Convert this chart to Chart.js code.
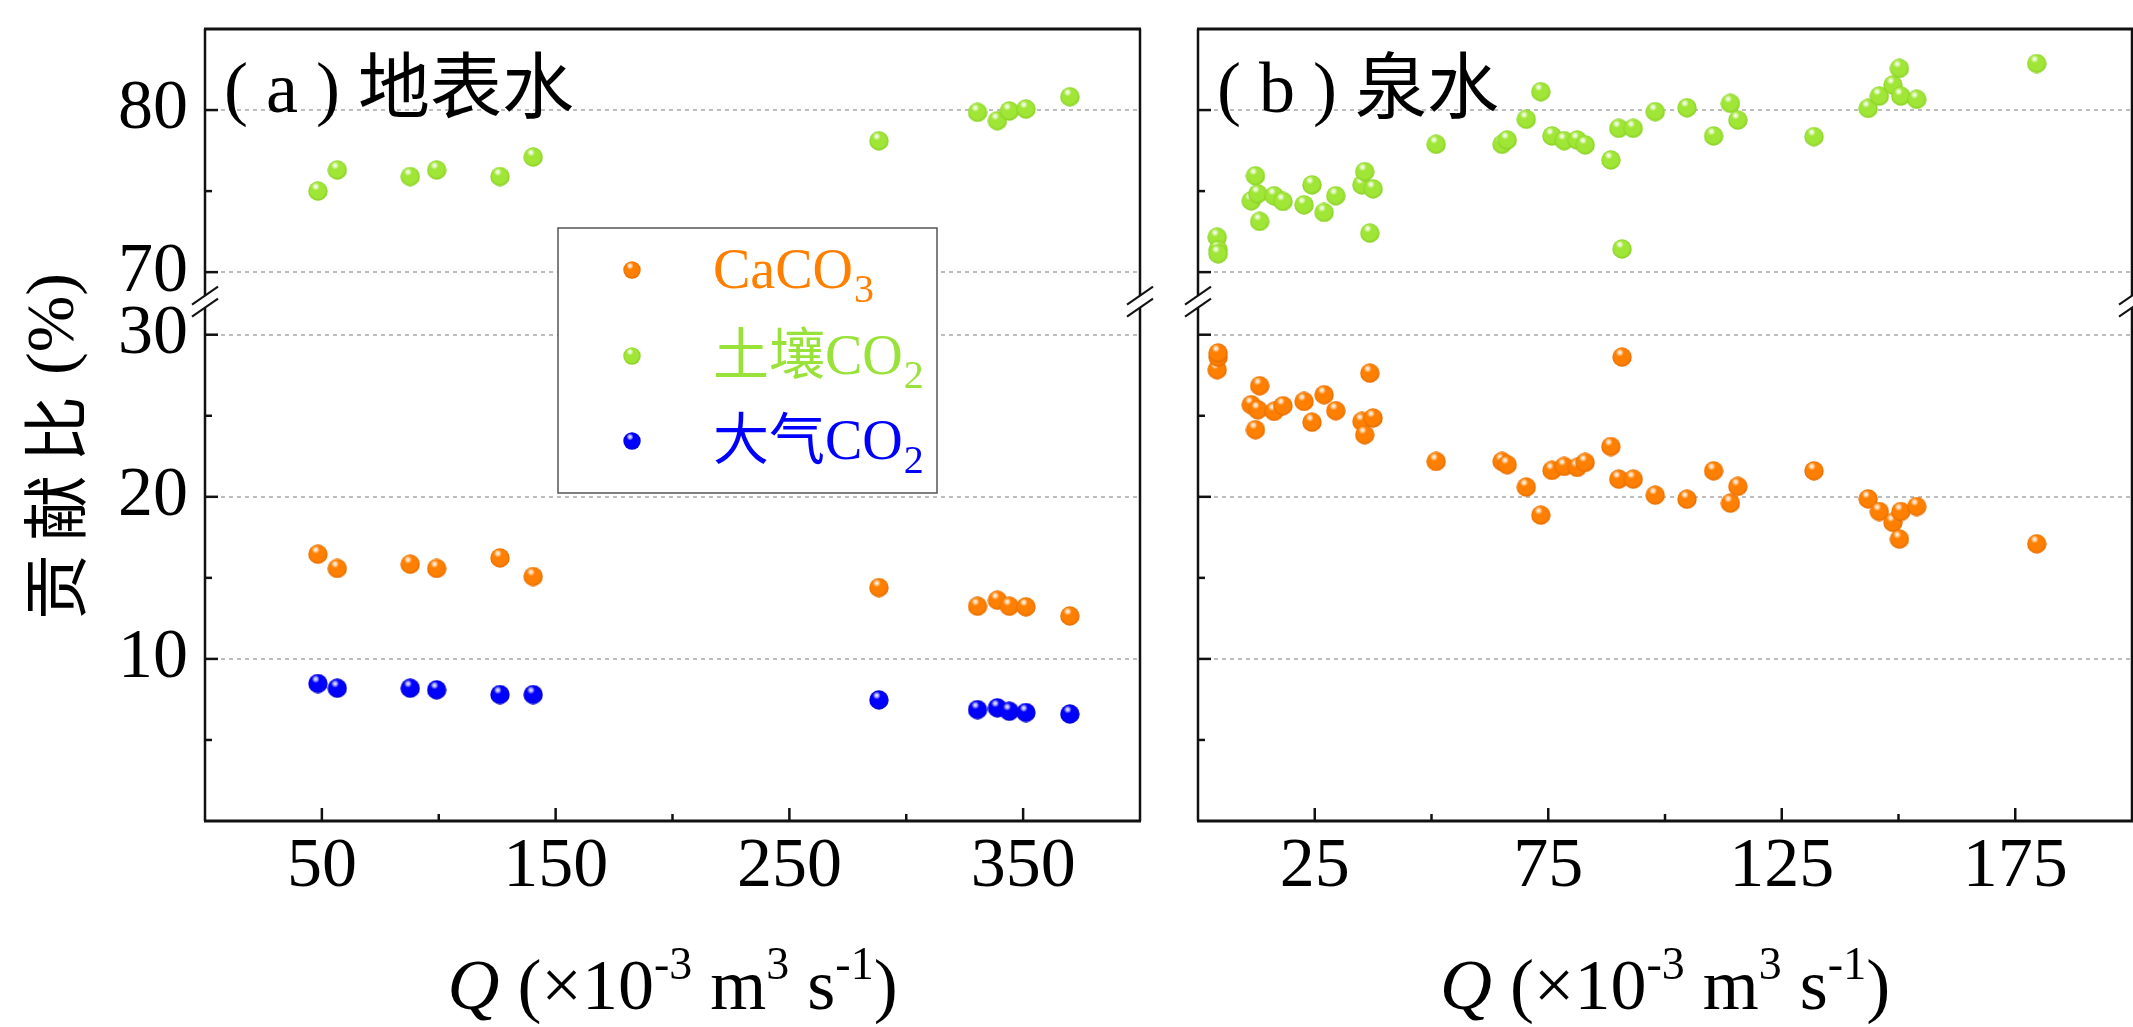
<!DOCTYPE html>
<html>
<head>
<meta charset="utf-8">
<script src="https://cdn.jsdelivr.net/npm/chart.js@4.4.1/dist/chart.umd.min.js"></script>
<style>
html,body{margin:0;padding:0;background:#fff;}
#wrap{position:relative;width:2133px;height:1027px;overflow:hidden;background:#fff;}
#ca{position:absolute;left:0;top:0;}
#cb{position:absolute;left:1165px;top:0;}
</style>
</head>
<body>
<div id="wrap">
<canvas id="ca" width="1165" height="1027"></canvas>
<canvas id="cb" width="968" height="1027"></canvas>
</div>
<script>
// ---------------- data ----------------
const surfaceQ        = [48.3, 56.6, 87.8, 99.1, 126.2, 140.4, 288.3, 330.5, 339.0, 344.1, 351.2, 370.0];
const surfaceCaCO3    = [16.46, 15.58, 15.84, 15.58, 16.23, 15.08, 14.40, 13.25, 13.62, 13.25, 13.21, 12.65];
const surfaceSoilCO2  = [75.0, 76.3, 75.9, 76.3, 75.9, 77.1, 78.1, 79.86, 79.34, 79.94, 80.06, 80.82];
const surfaceAtmCO2   = [8.48, 8.19, 8.19, 8.09, 7.80, 7.80, 7.47, 6.87, 6.98, 6.77, 6.69, 6.60];

const springQ       = [4.1, 4.3, 4.3, 11.4, 12.3, 12.8, 13.2, 16.3, 18.2, 22.7, 24.4, 27.0, 29.5, 35.1, 35.7, 36.8, 37.5,
                       51.0, 65.1, 66.2, 70.3, 73.4, 75.8, 78.4, 81.2, 82.9, 88.4, 90.1, 90.8, 93.2, 97.9, 104.7,
                       110.4, 114.0, 115.6, 131.9, 143.5, 145.9, 148.8, 150.2, 150.5, 153.9, 179.6];
const springSoilCO2 = [72.16, 71.38, 71.13, 74.40, 75.94, 74.83, 73.13, 74.71, 74.36, 74.15, 75.38, 73.68, 74.71, 75.38, 76.20, 72.41, 75.14,
                       77.89, 77.89, 78.15, 79.43, 81.13, 78.40, 78.11, 78.15, 77.85, 76.92, 78.87, 71.43, 78.87, 79.90, 80.14,
                       78.40, 80.41, 79.38, 78.36, 80.10, 80.86, 81.54, 82.57, 80.86, 80.66, 82.87];
const springCaCO3   = [27.84, 28.62, 28.87, 25.68, 24.14, 25.37, 26.85, 25.27, 25.62, 25.88, 24.60, 26.30, 25.31, 24.65, 23.83, 27.63, 24.86,
                       22.18, 22.18, 21.98, 20.60, 18.87, 21.63, 21.87, 21.81, 22.12, 23.10, 21.09, 28.62, 21.09, 20.10, 19.85,
                       21.60, 19.61, 20.64, 21.60, 19.87, 19.09, 18.42, 17.39, 19.09, 19.40, 17.10];

const surfaceXTicks  = [50, 100, 150, 200, 250, 300, 350];
const surfaceXLabels = [50, 150, 250, 350];
const springXTicks   = [25, 50, 75, 100, 125, 150, 175];
const springXLabels  = [25, 75, 125, 175];
const yTicksLow  = [5, 10, 15, 20, 25, 30];
const yTicksHigh = [70, 75, 80];
const yLabels    = [10, 20, 30, 70, 80];

const seriesNames  = ['CaCO', '土壤CO', '大气CO'];
const seriesSubs   = ['3', '2', '2'];
const panelTitles  = ['( a ) 地表水', '( b ) 泉水'];
const yTitleCJK    = '贡献比';
const yTitleUnit   = '(%)';

// ---------------- styling ----------------
const SERIF = "'Liberation Serif', 'Times New Roman', 'Noto Sans CJK SC', serif";
const CJK = "'Noto Sans CJK SC', sans-serif";
const COL = {
  orange: {base: '#FF8000', edge: '#E06A00', text: '#FF8000'},
  green:  {base: '#A0E636', edge: '#86CC22', text: '#99E23A'},
  blue:   {base: '#0000FF', edge: '#0000C8', text: '#0000FF'}
};
const LOW_MAX = 32.04, HIGH_MIN = 68.18, HIGH_MAX = 85;

function sphere(c, size) {
  const cv = document.createElement('canvas');
  cv.width = size; cv.height = size;
  const g = cv.getContext('2d');
  const r = size / 2;
  let gr = g.createRadialGradient(r * 0.85, r * 0.7, r * 0.1, r, r, r);
  gr.addColorStop(0, c.base);
  gr.addColorStop(0.72, c.base);
  gr.addColorStop(1, c.edge);
  g.fillStyle = gr;
  g.beginPath(); g.arc(r, r, r - 0.3, 0, Math.PI * 2); g.fill();
  const hx = r * 0.78, hy = r * 0.55, hr = r * 0.4;
  gr = g.createRadialGradient(hx, hy, 0, hx, hy, hr);
  gr.addColorStop(0, 'rgba(255,255,255,0.98)');
  gr.addColorStop(0.45, 'rgba(255,255,255,0.65)');
  gr.addColorStop(1, 'rgba(255,255,255,0)');
  g.fillStyle = gr;
  g.beginPath(); g.arc(hx, hy, hr, 0, Math.PI * 2); g.fill();
  return cv;
}
const dotOrange = sphere(COL.orange, 20), dotGreen = sphere(COL.green, 20), dotBlue = sphere(COL.blue, 20);
const legOrange = sphere(COL.orange, 18), legGreen = sphere(COL.green, 18), legBlue = sphere(COL.blue, 18);

function line(ctx, x1, y1, x2, y2) { ctx.beginPath(); ctx.moveTo(x1, y1); ctx.lineTo(x2, y2); ctx.stroke(); }

function drawLegend(ctx, a) {
  const L = a.left + 353, T = a.top + 199, W = 379, H = 265;
  ctx.save();
  ctx.fillStyle = '#fff'; ctx.fillRect(L, T, W, H);
  ctx.strokeStyle = '#555'; ctx.lineWidth = 1.5; ctx.strokeRect(L, T, W, H);
  const imgs = [legOrange, legGreen, legBlue];
  const cols = [COL.orange.text, COL.green.text, COL.blue.text];
  const ys = [T + 42, T + 128, T + 213];
  for (let i = 0; i < 3; i++) {
    ctx.drawImage(imgs[i], L + 74 - 9, ys[i] - 9);
    ctx.fillStyle = cols[i];
    ctx.textAlign = 'left'; ctx.textBaseline = 'alphabetic';
    ctx.font = `56px ${SERIF}`;
    const tx = L + 155, bl = ys[i] + 18;
    ctx.fillText(seriesNames[i], tx, bl);
    const w = ctx.measureText(seriesNames[i]).width;
    ctx.font = `40px ${SERIF}`;
    ctx.fillText(seriesSubs[i], tx + w + 1, bl + 14);
  }
  ctx.restore();
}

function drawQTitle(ctx, cx, base) {
  const big = `72px ${SERIF}`, sm = `46px ${SERIF}`;
  const segs = [
    {t: 'Q', f: `italic 72px ${SERIF}`, dy: 0},
    {t: ' (×10', f: big, dy: 0},
    {t: '-3', f: sm, dy: -30},
    {t: ' m', f: big, dy: 0},
    {t: '3', f: sm, dy: -30},
    {t: ' s', f: big, dy: 0},
    {t: '-1', f: sm, dy: -30},
    {t: ')', f: big, dy: 0}
  ];
  ctx.save();
  ctx.fillStyle = '#000'; ctx.textAlign = 'left'; ctx.textBaseline = 'alphabetic';
  let total = 0;
  for (const s of segs) { ctx.font = s.f; s.w = ctx.measureText(s.t).width; total += s.w; }
  let x = cx - total / 2;
  for (const s of segs) { ctx.font = s.f; ctx.fillText(s.t, x, base + s.dy); x += s.w; }
  ctx.restore();
}

function drawYTitle(ctx, a) {
  const cy = (a.top + a.bottom) / 2;
  ctx.save();
  ctx.translate(55, cy);
  ctx.rotate(-Math.PI / 2);
  ctx.fillStyle = '#000';
  ctx.textBaseline = 'middle';
  ctx.textAlign = 'center';
  ctx.font = `66px ${CJK}`;
  const chars = Array.from(yTitleCJK);
  const pitch = 79;
  chars.forEach((ch, i) => ctx.fillText(ch, -162 + i * pitch, 0));
  ctx.textAlign = 'left';
  ctx.font = `68px ${SERIF}`;
  ctx.fillText(yTitleUnit, 50, 0);
  ctx.restore();
}

const panelPlugin = {
  id: 'panel',
  beforeDatasetsDraw(chart, args, opts) {
    const ctx = chart.ctx, a = chart.chartArea;
    const lo = chart.scales.yLow, hi = chart.scales.yHigh;
    ctx.save();
    ctx.strokeStyle = '#bcbcbc'; ctx.lineWidth = 2; ctx.setLineDash([4, 4]);
    for (const v of yLabels) {
      const s = v >= 50 ? hi : lo;
      const y = Math.round(s.getPixelForValue(v));
      line(ctx, a.left, y, a.right, y);
    }
    ctx.restore();
    if (opts.legend) drawLegend(ctx, a);
  },
  afterDraw(chart, args, opts) {
    const ctx = chart.ctx, a = chart.chartArea;
    const lo = chart.scales.yLow, hi = chart.scales.yHigh, xs = chart.scales.x;
    ctx.save();
    ctx.strokeStyle = '#111'; ctx.lineCap = 'butt';
    // frame
    ctx.lineWidth = 3;
    line(ctx, a.left - 1, a.top, a.right + 1, a.top);
    line(ctx, a.left - 1, a.bottom, a.right + 1, a.bottom);
    const yb = hi.bottom, g = 6;
    ctx.lineWidth = 2.5;
    for (const x of [a.left, a.right]) {
      line(ctx, x, a.top, x, yb - g);
      line(ctx, x, yb + g, x, a.bottom);
    }
    ctx.lineWidth = 2;
    for (const x of [a.left, a.right]) {
      for (const d of [-g, g]) line(ctx, x - 13, yb + d + 9, x + 13, yb + d - 9);
    }
    // inner ticks
    ctx.lineWidth = 2.5;
    for (const s of [lo, hi]) {
      for (const t of s.ticks) {
        const y = s.getPixelForValue(t.value);
        const L = yLabels.includes(t.value) ? 13 : 7;
        line(ctx, a.left, y, a.left + L, y);
      }
    }
    for (const t of xs.ticks) {
      const x = xs.getPixelForValue(t.value);
      const L = opts.xLabels.includes(t.value) ? 13 : 7;
      line(ctx, x, a.bottom, x, a.bottom - L);
    }
    // panel title
    ctx.fillStyle = '#000'; ctx.textAlign = 'left'; ctx.textBaseline = 'alphabetic';
    ctx.font = `72px ${SERIF}`;
    ctx.fillText(opts.title, a.left + 19, 112);
    if (opts.yTitle) drawYTitle(ctx, a);
    drawQTitle(ctx, (a.left + a.right) / 2, 1009);
    ctx.restore();
  }
};

function yScales(showLabels, axisWidth) {
  const common = (ticks, weight, sw) => ({
    type: 'linear', position: 'left', stack: 'brk', stackWeight: sw, weight: weight,
    grid: {display: false, drawTicks: false}, border: {display: false},
    afterBuildTicks: s => { s.ticks = ticks.map(v => ({value: v})); },
    afterFit: s => { s.width = axisWidth; s.paddingTop = 0; s.paddingBottom = 0; s.paddingLeft = 0; s.paddingRight = 0; },
    ticks: {display: showLabels, autoSkip: false, padding: 17, color: '#000',
            font: {family: "'Liberation Serif', 'Times New Roman', serif", size: 70},
            callback: v => yLabels.includes(v) ? String(v) : ''}
  });
  return {
    yLow:  Object.assign(common(yTicksLow, 0, LOW_MAX), {min: 0, max: LOW_MAX}),
    yHigh: Object.assign(common(yTicksHigh, 1, HIGH_MAX - HIGH_MIN), {min: HIGH_MIN, max: HIGH_MAX})
  };
}

function xScale(max, ticks, labels) {
  return {
    type: 'linear', position: 'bottom', min: 0, max: max,
    grid: {display: false, drawTicks: false}, border: {display: false},
    afterBuildTicks: s => { s.ticks = ticks.map(v => ({value: v})); },
    afterFit: s => { s.height = 206; s.paddingLeft = 0; s.paddingRight = 0; },
    ticks: {autoSkip: false, maxRotation: 0, minRotation: 0, padding: 5, color: '#000',
            font: {family: "'Liberation Serif', 'Times New Roman', serif", size: 70},
            callback: v => labels.includes(v) ? String(v) : ''}
  };
}

function ds(label, qs, vals, img, axis) {
  return {label, data: qs.map((q, i) => ({x: q, y: vals[i]})), pointStyle: img, pointRadius: 10, yAxisID: axis, xAxisID: 'x'};
}

function baseOptions(scales, panelOpts, padRight) {
  return {
    responsive: false, animation: false, events: [],
    layout: {autoPadding: false, padding: {left: 0, top: 29, right: padRight, bottom: 0}},
    plugins: {legend: {display: false}, tooltip: {enabled: false}, panel: panelOpts},
    scales
  };
}

new Chart(document.getElementById('ca'), {
  type: 'scatter',
  data: {datasets: [
    ds('大气CO2', surfaceQ, surfaceAtmCO2, dotBlue, 'yLow'),
    ds('CaCO3', surfaceQ, surfaceCaCO3, dotOrange, 'yLow'),
    ds('土壤CO2', surfaceQ, surfaceSoilCO2, dotGreen, 'yHigh')
  ]},
  options: baseOptions(Object.assign({x: xScale(400, surfaceXTicks, surfaceXLabels)}, yScales(true, 205)),
                       {legend: true, yTitle: true, title: panelTitles[0], xLabels: surfaceXLabels}, 25),
  plugins: [panelPlugin]
});

new Chart(document.getElementById('cb'), {
  type: 'scatter',
  data: {datasets: [
    ds('CaCO3', springQ, springCaCO3, dotOrange, 'yLow'),
    ds('土壤CO2', springQ, springSoilCO2, dotGreen, 'yHigh')
  ]},
  options: baseOptions(Object.assign({x: xScale(200, springXTicks, springXLabels)}, yScales(false, 33)),
                       {legend: false, yTitle: false, title: panelTitles[1], xLabels: springXLabels}, 1),
  plugins: [panelPlugin]
});
</script>
</body>
</html>
